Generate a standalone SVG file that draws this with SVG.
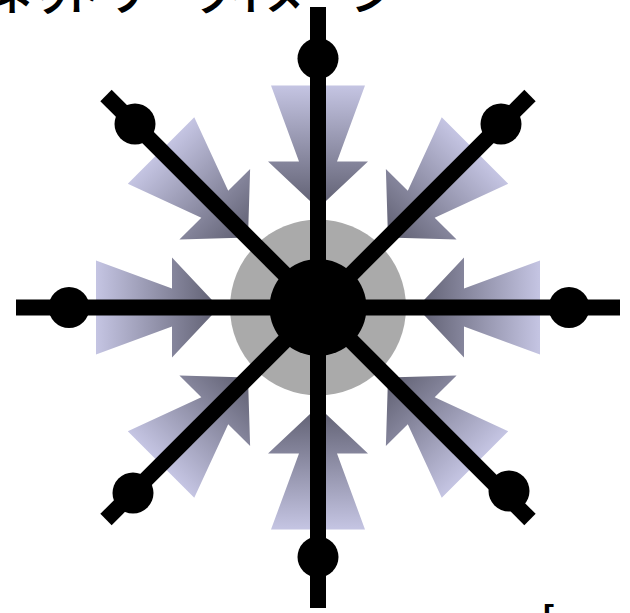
<svg xmlns="http://www.w3.org/2000/svg" xmlns:xlink="http://www.w3.org/1999/xlink" width="630" height="613" viewBox="0 0 630 613">
  <style>
    .spoke { stroke: #000; stroke-width: 16; fill: none; }
    .dot { fill: #000; }
    .jp { font-family: "Noto Sans CJK JP", "Noto Sans", sans-serif; font-size: 38px; font-weight: bold; fill: #000; }
  </style>
  <defs>
    <linearGradient id="arrowGrad" gradientUnits="userSpaceOnUse" x1="-221" y1="0" x2="-99" y2="0">
      <stop offset="0" stop-color="#c4c4e2"/>
      <stop offset="1" stop-color="#5e5e70"/>
    </linearGradient>
    <polygon id="arrow" points="-222,-47 -146,-19 -146,-50 -99,0 -146,50 -146,19 -222,47" fill="url(#arrowGrad)"/>
  </defs>
  <rect width="630" height="613" fill="#fff"/>

  <text class="jp" y="10"><tspan x="-7">ネ</tspan><tspan x="33">ッ</tspan><tspan x="62">ト</tspan><tspan x="107">ワ</tspan><tspan x="150">ー</tspan><tspan x="195">ク</tspan><tspan x="230">イ</tspan><tspan x="265">メ</tspan><tspan x="306">ー</tspan><tspan x="352">ジ</tspan></text>
  <text class="jp" x="541" y="635">[</text>

  <g id="hub-halo">
    <circle cx="318" cy="307.5" r="88" fill="#aaaaaa"/>
  </g>

  <g id="arrows" transform="translate(318,307.5)">
    <use xlink:href="#arrow" href="#arrow" transform="rotate(0)"/>
    <use xlink:href="#arrow" href="#arrow" transform="rotate(45)"/>
    <use xlink:href="#arrow" href="#arrow" transform="rotate(90)"/>
    <use xlink:href="#arrow" href="#arrow" transform="rotate(135)"/>
    <use xlink:href="#arrow" href="#arrow" transform="rotate(180)"/>
    <use xlink:href="#arrow" href="#arrow" transform="rotate(225)"/>
    <use xlink:href="#arrow" href="#arrow" transform="rotate(270)"/>
    <use xlink:href="#arrow" href="#arrow" transform="rotate(315)"/>
  </g>

  <g id="connectors">
    <line class="spoke" x1="318" y1="307.5" x2="16" y2="307.5"/>
    <line class="spoke" x1="318" y1="307.5" x2="620" y2="307.5"/>
    <line class="spoke" x1="318" y1="307.5" x2="318" y2="7"/>
    <line class="spoke" x1="318" y1="307.5" x2="318" y2="608"/>
    <line class="spoke" x1="318" y1="307.5" x2="106" y2="95.5"/>
    <line class="spoke" x1="318" y1="307.5" x2="530" y2="95.5"/>
    <line class="spoke" x1="318" y1="307.5" x2="106" y2="519.5"/>
    <line class="spoke" x1="318" y1="307.5" x2="530" y2="519.5"/>
  </g>

  <g id="node-w"><circle class="dot" cx="69" cy="307.5" r="20.5"/></g>
  <g id="node-e"><circle class="dot" cx="569" cy="307.5" r="20.5"/></g>
  <g id="node-n"><circle class="dot" cx="318" cy="58.5" r="20.5"/></g>
  <g id="node-s"><circle class="dot" cx="318" cy="557" r="20.5"/></g>
  <g id="node-nw"><circle class="dot" cx="135" cy="124" r="20.5"/></g>
  <g id="node-ne"><circle class="dot" cx="501" cy="124" r="20.5"/></g>
  <g id="node-sw"><circle class="dot" cx="133" cy="493" r="20.5"/></g>
  <g id="node-se"><circle class="dot" cx="509" cy="491" r="20.5"/></g>

  <g id="hub">
    <circle cx="318" cy="307.5" r="48.5" fill="#000"/>
  </g>
</svg>
